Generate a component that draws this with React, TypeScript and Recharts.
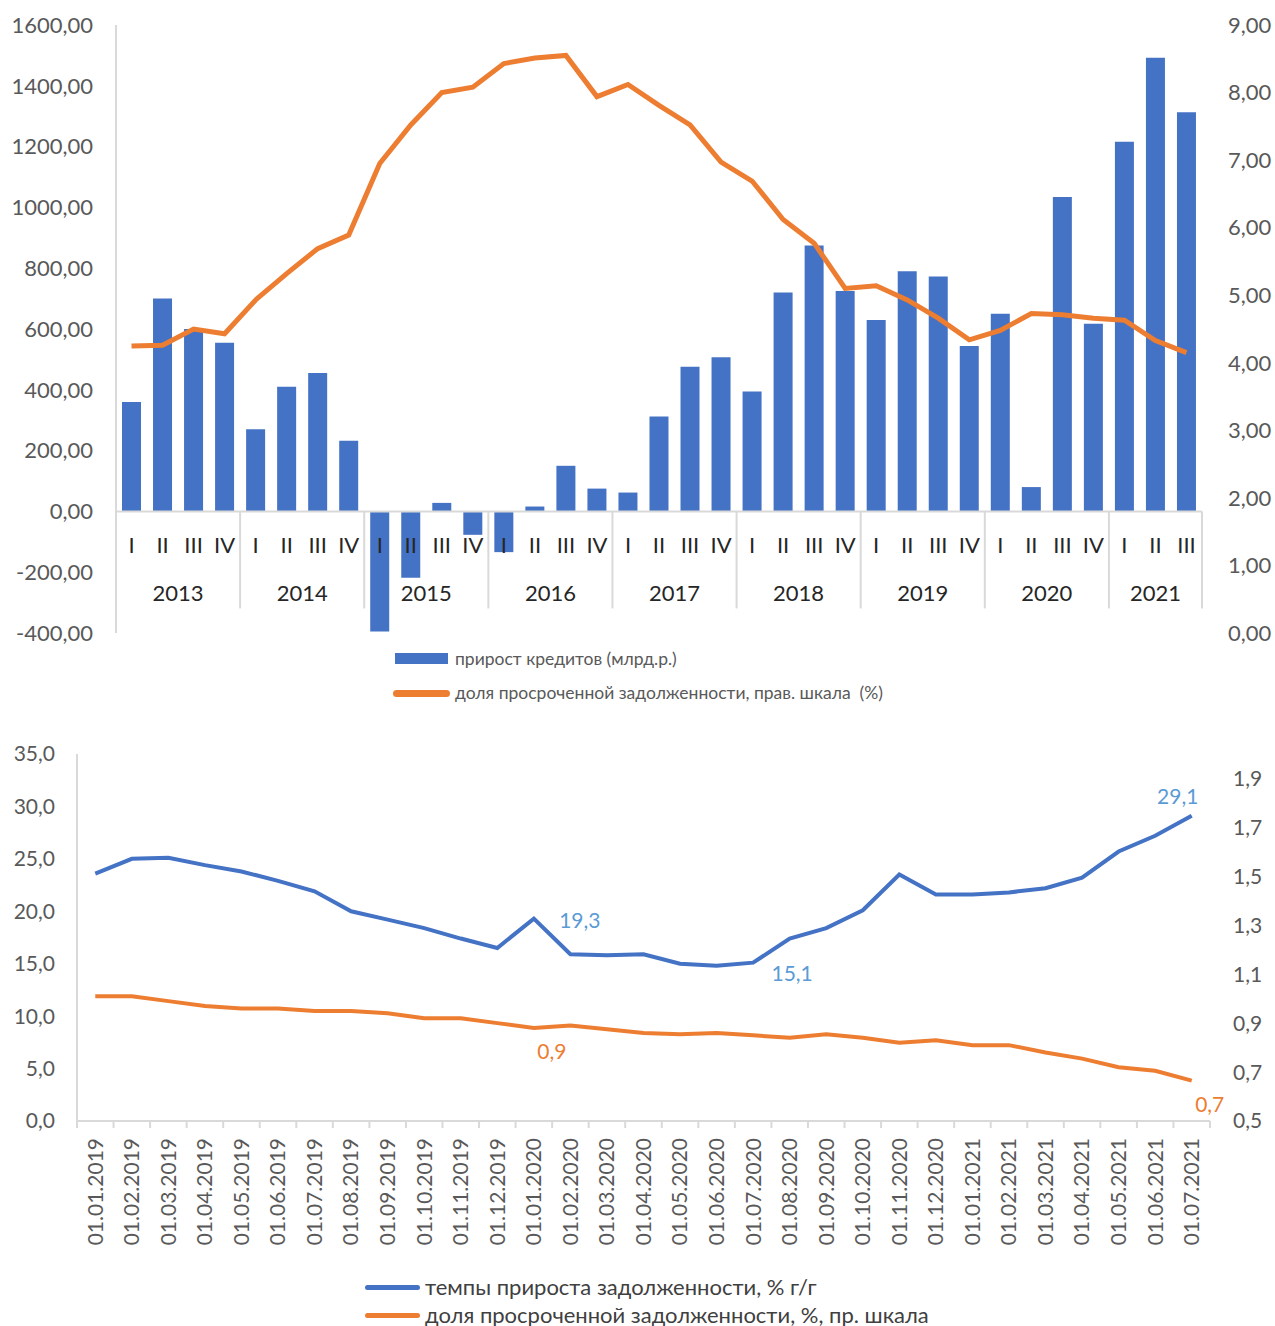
import React from "react";
import {
  ComposedChart,
  LineChart,
  Bar,
  Line,
  XAxis,
  YAxis,
  ReferenceLine,
} from "recharts";

const FONT = "Lato, 'Open Sans', 'Noto Sans', sans-serif";
const BLUE = "#4472C4";
const ORANGE = "#ED7D31";
const LABEL_BLUE = "#5B9BD5";
const AXIS_GREY = "#d9d9d9";
const TICK_GREY = "#595959";

// ---- top chart: quarterly credit growth vs overdue share ----
const YEARS = ["2013", "2014", "2015", "2016", "2017", "2018", "2019", "2020", "2021"];
const QUARTERS = ["I", "II", "III", "IV"];
const CREDIT_GROWTH = [
  360, 700, 600, 555,
  270, 410, 455, 232,
  -395, -218, 28, -77,
  -134, 16, 150, 75,
  62, 312, 476, 507,
  394, 720, 875, 725,
  630, 790, 773, 544,
  650, 80, 1034, 617,
  1216, 1492, 1313,
];
const OVERDUE_SHARE_Q = [
  4.25, 4.26, 4.5, 4.43,
  4.93, 5.32, 5.69, 5.89,
  6.95, 7.52, 8.0, 8.08,
  8.43, 8.51, 8.55, 7.94,
  8.12, 7.81, 7.52, 6.97,
  6.69, 6.12, 5.77, 5.1,
  5.14, 4.93, 4.66, 4.34,
  4.48, 4.73, 4.71, 4.66,
  4.63, 4.33, 4.15,
];
const TOP_LEFT_TICKS = [-400, -200, 0, 200, 400, 600, 800, 1000, 1200, 1400, 1600];
const TOP_RIGHT_TICKS = [0, 1, 2, 3, 4, 5, 6, 7, 8, 9];

// ---- bottom chart: monthly debt growth vs overdue share ----
const DATES = [
  "01.01.2019", "01.02.2019", "01.03.2019", "01.04.2019", "01.05.2019", "01.06.2019",
  "01.07.2019", "01.08.2019", "01.09.2019", "01.10.2019", "01.11.2019", "01.12.2019",
  "01.01.2020", "01.02.2020", "01.03.2020", "01.04.2020", "01.05.2020", "01.06.2020",
  "01.07.2020", "01.08.2020", "01.09.2020", "01.10.2020", "01.11.2020", "01.12.2020",
  "01.01.2021", "01.02.2021", "01.03.2021", "01.04.2021", "01.05.2021", "01.06.2021",
  "01.07.2021",
];
const DEBT_GROWTH = [
  23.6, 25.0, 25.1, 24.4, 23.8, 22.9, 21.9, 20.0, 19.2, 18.4, 17.4, 16.5,
  19.3, 15.9, 15.8, 15.9, 15.0, 14.8, 15.1, 17.4, 18.4, 20.1, 23.5, 21.6,
  21.6, 21.8, 22.2, 23.2, 25.7, 27.2, 29.1,
];
const OVERDUE_SHARE_M = [
  1.01, 1.01, 0.99, 0.97, 0.96, 0.96, 0.95, 0.95, 0.94, 0.92, 0.92, 0.9,
  0.88, 0.89, 0.875, 0.86, 0.855, 0.86, 0.85, 0.84, 0.855, 0.84, 0.82, 0.83,
  0.81, 0.81, 0.78, 0.755, 0.72, 0.705, 0.665,
];
const BOTTOM_LEFT_TICKS = [0, 5, 10, 15, 20, 25, 30, 35];
const BOTTOM_RIGHT_TICKS = [0.5, 0.7, 0.9, 1.1, 1.3, 1.5, 1.7, 1.9];

// labelled points: index -> offset of the label centre from the point
const GROWTH_LABELS: Record<number, [number, number]> = {
  12: [46, 1],
  18: [39, 10],
  30: [-14, -20],
};
const OVERDUE_LABELS: Record<number, [number, number]> = {
  12: [18, 22],
  30: [18, 23],
};

const W = 1275;
const TOP_H = 720;
const TOP_MARGIN = { top: 25, right: 0, bottom: 0, left: 0 };
const TOP_XAXIS_H = 87;
const TOP_LEFT_W = 116;
const TOP_RIGHT_W = 73;

const BOT_H = 606;
const BOT_MARGIN = { top: 34, right: 0, bottom: 0, left: 0 };
const BOT_LEFT_W = 77;
const BOT_RIGHT_W = 65;
const BOT_XAXIS_H = 205;

const comma = (v: number, d: number) => v.toFixed(d).replace(".", ",");

const quarterData = CREDIT_GROWTH.map((v, i) => ({
  key: `${YEARS[Math.floor(i / 4)]}-${QUARTERS[i % 4]}`,
  growth: v,
  share: OVERDUE_SHARE_Q[i],
}));

const monthData = DATES.map((d, i) => ({
  date: d,
  growth: DEBT_GROWTH[i],
  share: OVERDUE_SHARE_M[i],
}));

function QuarterTick(props: any) {
  const { x, index } = props;
  const n = CREDIT_GROWTH.length;
  const plotW = W - TOP_LEFT_W - TOP_RIGHT_W;
  const plotH = TOP_H - TOP_MARGIN.top - TOP_MARGIN.bottom - TOP_XAXIS_H;
  const lo = TOP_LEFT_TICKS[0];
  const hi = TOP_LEFT_TICKS[TOP_LEFT_TICKS.length - 1];
  const zeroY = TOP_MARGIN.top + (plotH * hi) / (hi - lo);
  const band = plotW / n;
  const qi = index % 4;
  const yi = Math.floor(index / 4);
  const inYear = Math.min(4, n - yi * 4);
  const textStyle = { fontFamily: FONT, fontSize: 22, fill: "#262626" };
  return (
    <g>
      <text x={x} y={zeroY + 33} textAnchor="middle" dominantBaseline="central" {...textStyle}>
        {QUARTERS[qi]}
      </text>
      {qi === 0 && (
        <>
          <line x1={x - band / 2} x2={x - band / 2} y1={zeroY} y2={zeroY + 97} stroke={AXIS_GREY} strokeWidth={2} />
          <text
            x={x + (band * (inYear - 1)) / 2}
            y={zeroY + 81}
            textAnchor="middle"
            dominantBaseline="central"
            {...textStyle}
          >
            {YEARS[yi]}
          </text>
        </>
      )}
      {index === n - 1 && (
        <line x1={x + band / 2} x2={x + band / 2} y1={zeroY} y2={zeroY + 97} stroke={AXIS_GREY} strokeWidth={2} />
      )}
    </g>
  );
}

function DateTick(props: any) {
  const { x, index, payload } = props;
  const n = DATES.length;
  const plotW = W - BOT_LEFT_W - BOT_RIGHT_W;
  const band = plotW / n;
  const axisY = BOT_H - BOT_XAXIS_H - BOT_MARGIN.bottom;
  return (
    <g>
      <line x1={x - band / 2} x2={x - band / 2} y1={axisY} y2={axisY + 7} stroke={AXIS_GREY} strokeWidth={2} />
      {index === n - 1 && (
        <line x1={x + band / 2} x2={x + band / 2} y1={axisY} y2={axisY + 7} stroke={AXIS_GREY} strokeWidth={2} />
      )}
      <text
        transform={`translate(${x},${axisY + 17}) rotate(-90)`}
        textAnchor="end"
        dy="0.35em"
        fontFamily={FONT}
        fontSize={21}
        fill={TICK_GREY}
      >
        {payload.value}
      </text>
    </g>
  );
}

const pointLabel = (marks: Record<number, [number, number]>, color: string) => (p: any) => {
  const off = marks[p.index];
  if (!off) return <g key={`l-${p.index}`} />;
  return (
    <text
      key={`l-${p.index}`}
      x={p.x + off[0]}
      y={p.y + off[1]}
      textAnchor="middle"
      dominantBaseline="central"
      fontFamily={FONT}
      fontSize={21}
      fill={color}
    >
      {comma(p.value, 1)}
    </text>
  );
};

function LegendLine({ color, left, top, width, thick }: any) {
  return (
    <div
      style={{
        position: "absolute",
        left,
        top: top - thick / 2,
        width,
        height: thick,
        borderRadius: thick / 2,
        background: color,
      }}
    />
  );
}

function LegendText({ left, top, size, color, children }: any) {
  return (
    <div
      style={{
        position: "absolute",
        left,
        top: top - size * 0.65,
        fontSize: size,
        lineHeight: `${size * 1.3}px`,
        color,
        whiteSpace: "nowrap",
        fontFamily: FONT,
      }}
    >
      {children}
    </div>
  );
}

export default function App() {
  const tickStyle = { fill: TICK_GREY, fontSize: 22, fontFamily: FONT };
  const tickStyleSmall = { fill: TICK_GREY, fontSize: 21, fontFamily: FONT };
  return (
    <div style={{ position: "absolute", left: 0, top: 0, width: W, height: 1326, background: "#fff" }}>
      <div style={{ position: "absolute", left: 0, top: 0 }}>
        <ComposedChart width={W} height={TOP_H} data={quarterData} margin={TOP_MARGIN}>
          <YAxis
            yAxisId="left"
            width={TOP_LEFT_W}
            domain={[TOP_LEFT_TICKS[0], TOP_LEFT_TICKS[TOP_LEFT_TICKS.length - 1]]}
            ticks={TOP_LEFT_TICKS}
            interval={0}
            tickFormatter={(v: number) => comma(v, 2)}
            axisLine={{ stroke: AXIS_GREY, strokeWidth: 2 }}
            tickLine={false}
            tickSize={0}
            tickMargin={23}
            tick={tickStyle}
          />
          <YAxis
            yAxisId="right"
            orientation="right"
            width={TOP_RIGHT_W}
            domain={[0, 9]}
            ticks={TOP_RIGHT_TICKS}
            interval={0}
            tickFormatter={(v: number) => comma(v, 2)}
            axisLine={false}
            tickLine={false}
            tickSize={0}
            tickMargin={26}
            tick={tickStyle}
          />
          <ReferenceLine yAxisId="left" y={0} stroke={AXIS_GREY} strokeWidth={2} />
          <Bar yAxisId="left" dataKey="growth" fill={BLUE} barSize={19} isAnimationActive={false} />
          <Line
            yAxisId="right"
            dataKey="share"
            type="linear"
            stroke={ORANGE}
            strokeWidth={5}
            dot={false}
            activeDot={false}
            isAnimationActive={false}
          />
          <XAxis
            dataKey="key"
            height={TOP_XAXIS_H}
            interval={0}
            axisLine={false}
            tickLine={false}
            tick={<QuarterTick />}
          />
        </ComposedChart>
      </div>

      <div style={{ position: "absolute", left: 395, top: 653, width: 53, height: 11, background: BLUE }} />
      <LegendText left={455} top={659} size={17.5} color={TICK_GREY}>
        прирост кредитов (млрд.р.)
      </LegendText>
      <LegendLine color={ORANGE} left={393} top={693} width={57} thick={7} />
      <LegendText left={455} top={693} size={17.5} color={TICK_GREY}>
        доля просроченной задолженности, прав. шкала&nbsp;&nbsp;(%)
      </LegendText>

      <div style={{ position: "absolute", left: 0, top: TOP_H }}>
        <LineChart width={W} height={BOT_H} data={monthData} margin={BOT_MARGIN}>
          <YAxis
            yAxisId="left"
            width={BOT_LEFT_W}
            domain={[0, 35]}
            ticks={BOTTOM_LEFT_TICKS}
            interval={0}
            tickFormatter={(v: number) => comma(v, 1)}
            axisLine={{ stroke: AXIS_GREY, strokeWidth: 2 }}
            tickLine={false}
            tickSize={0}
            tickMargin={22}
            tick={tickStyleSmall}
          />
          <YAxis
            yAxisId="right"
            orientation="right"
            width={BOT_RIGHT_W}
            domain={[0.5, 2.0]}
            ticks={BOTTOM_RIGHT_TICKS}
            interval={0}
            tickFormatter={(v: number) => comma(v, 1)}
            axisLine={false}
            tickLine={false}
            tickSize={0}
            tickMargin={23}
            tick={tickStyleSmall}
          />
          <XAxis
            dataKey="date"
            scale="band"
            height={BOT_XAXIS_H}
            interval={0}
            axisLine={{ stroke: AXIS_GREY, strokeWidth: 2 }}
            tickLine={false}
            tick={<DateTick />}
          />
          <Line
            yAxisId="left"
            dataKey="growth"
            type="linear"
            stroke={BLUE}
            strokeWidth={4}
            dot={false}
            activeDot={false}
            label={pointLabel(GROWTH_LABELS, LABEL_BLUE)}
            isAnimationActive={false}
          />
          <Line
            yAxisId="right"
            dataKey="share"
            type="linear"
            stroke={ORANGE}
            strokeWidth={4}
            dot={false}
            activeDot={false}
            label={pointLabel(OVERDUE_LABELS, ORANGE)}
            isAnimationActive={false}
          />
        </LineChart>
      </div>

      <LegendLine color={BLUE} left={365} top={1287} width={55} thick={5} />
      <LegendText left={425} top={1287} size={22} color="#404040">
        темпы прироста задолженности, % г/г
      </LegendText>
      <LegendLine color={ORANGE} left={365} top={1315} width={55} thick={5} />
      <LegendText left={425} top={1315} size={22} color="#404040">
        доля просроченной задолженности, %, пр. шкала
      </LegendText>
    </div>
  );
}
